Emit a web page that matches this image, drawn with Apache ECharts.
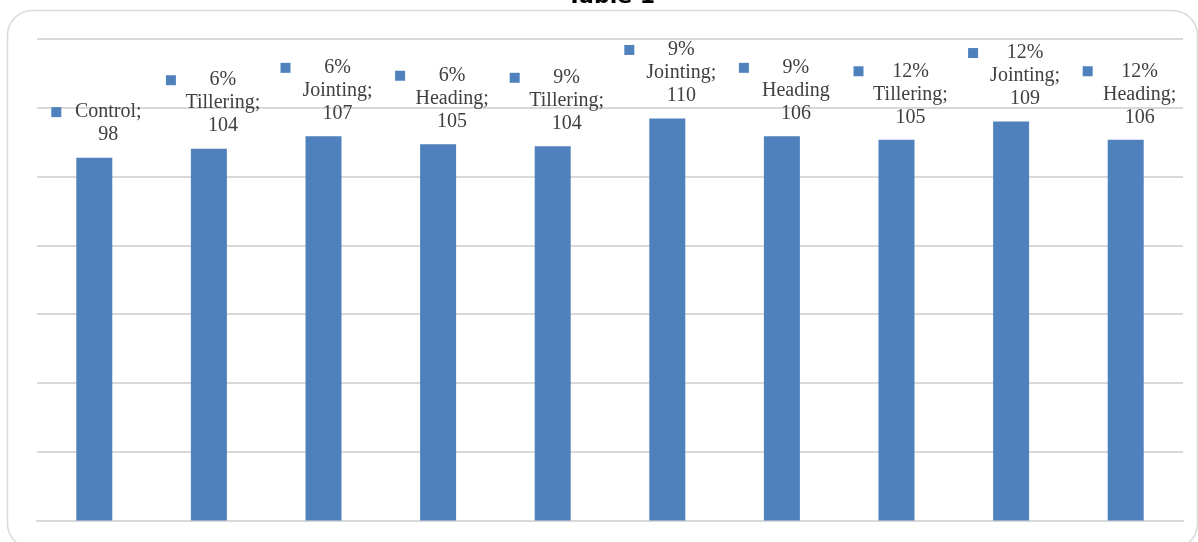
<!DOCTYPE html>
<html>
<head>
<meta charset="utf-8">
<title>Table 1</title>
<script src="https://cdn.jsdelivr.net/npm/echarts@6/dist/echarts.min.js"></script>
<style>
	html, body { margin: 0; padding: 0; background: #ffffff; }
	#chart { width: 1198px; height: 542px; }
</style>
</head>
<body>
<div id="chart"></div>
<script>
// categories (treatment; stage)
var categories = ['Control', '6% Tillering', '6% Jointing', '6% Heading', '9% Tillering',
	'9% Jointing', '9% Heading', '12% Tillering', '12% Jointing', '12% Heading'];
// bar heights (axis is hidden, 0..140)
var barValues = [105.5, 108.1, 111.7, 109.4, 108.8, 116.9, 111.7, 110.7, 116.0, 110.7];
// data label text exactly as printed, one entry per line
var labelLines = [
	['Control;', '98'],
	['6%', 'Tillering;', '104'],
	['6%', 'Jointing;', '107'],
	['6%', 'Heading;', '105'],
	['9%', 'Tillering;', '104'],
	['9%', 'Jointing;', '110'],
	['9%', 'Heading', '106'],
	['12%', 'Tillering;', '105'],
	['12%', 'Jointing;', '109'],
	['12%', 'Heading;', '106']
];

var myChart = echarts.init(document.getElementById('chart'));

var option = {
	animation: false,
	backgroundColor: '#ffffff',
	graphic: [
		{
			// rounded chart-area border
			type: 'rect',
			shape: { x: 7.5, y: 10.5, width: 1190, height: 538, r: 25 },
			style: { fill: 'none', stroke: '#d9d9d9', lineWidth: 1.5 },
			silent: true
		},
		{
			type: 'text',
			x: 611,
			y: -2.5,
			style: {
				text: 'Table 1',
				fontFamily: 'DejaVu Sans',
				fontWeight: 'bold',
				fontSize: 22,
				fill: '#000000',
				align: 'center',
				verticalAlign: 'middle'
			},
			silent: true
		}
	],
	grid: {
		left: 37,
		right: 15,
		top: 39,
		bottom: 21.5,
		containLabel: false
	},
	xAxis: {
		type: 'category',
		data: categories,
		axisLine: { show: true, lineStyle: { color: '#d9d9d9', width: 2 } },
		axisTick: { show: false },
		axisLabel: { show: false }
	},
	yAxis: {
		type: 'value',
		min: 0,
		max: 140,
		interval: 20,
		axisLine: { show: false },
		axisTick: { show: false },
		axisLabel: { show: false },
		splitLine: { lineStyle: { color: '#d9d9d9', width: 2 } }
	},
	series: [
		{
			type: 'bar',
			data: barValues,
			barWidth: 36,
			itemStyle: { color: '#4f81bd' },
			label: {
				show: true,
				position: 'top',
				distance: 11,
				offset: [9, 0],
				formatter: function (params) {
					var lines = labelLines[params.dataIndex];
					return lines.map(function (l, k) {
						return (k === 0 ? '{sq|}' : '{pad|}') + '{t|' + l + '}';
					}).join('\n');
				},
				rich: {
					sq: { width: 10, height: 10, backgroundColor: '#4f81bd' },
					pad: { width: 10, height: 10 },
					t: {
						width: 94,
						align: 'center',
						fontFamily: 'Liberation Serif',
						fontSize: 20,
						lineHeight: 23,
						color: '#404040'
					}
				}
			}
		}
	]
};

myChart.setOption(option);

window.addEventListener('resize', function () {
	myChart.resize();
});
</script>
</body>
</html>
